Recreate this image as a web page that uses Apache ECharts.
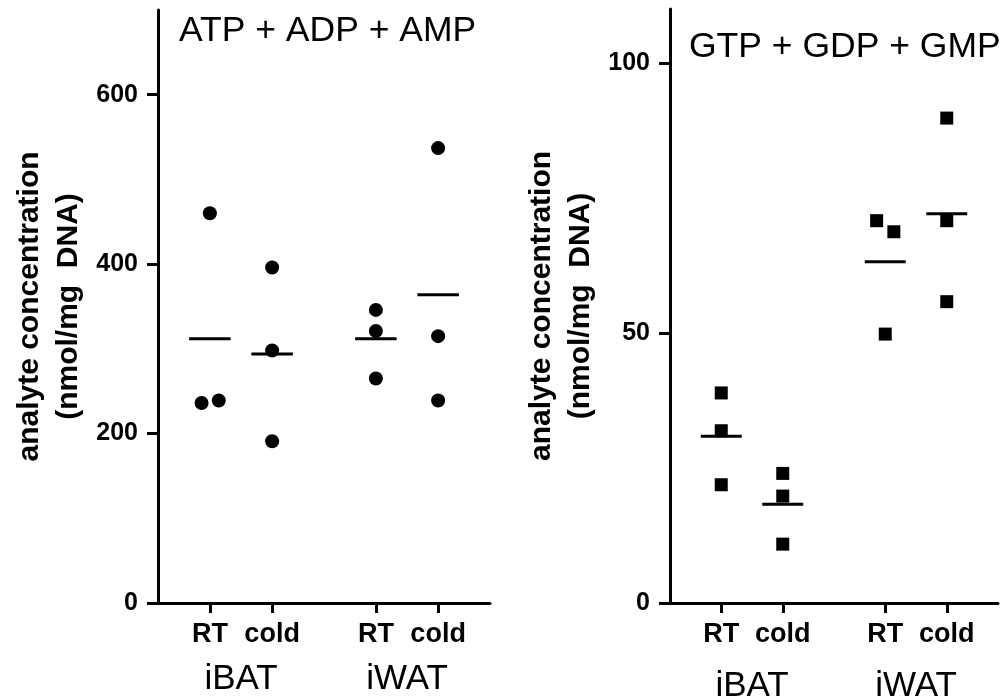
<!DOCTYPE html>
<html>
<head>
<meta charset="utf-8">
<script src="https://cdn.jsdelivr.net/npm/echarts@6/dist/echarts.min.js"></script>
<style>html,body{margin:0;padding:0;background:#fff}#c{width:1003px;height:700px}</style>
</head>
<body>
<div id="c"></div>
<script>
// ---- data ----
const tissues = ['iBAT', 'iWAT'];
const conditions = ['RT', 'cold', 'RT', 'cold'];
const panelTitles = ['ATP + ADP + AMP', 'GTP + GDP + GMP'];
const yAxisTitle = 'analyte concentration\n(nmol/mg  DNA)';

// per category: iBAT RT, iBAT cold, iWAT RT, iWAT cold
const adenylateValues = [[460, 236, 239], [396, 298, 191], [346, 321, 265], [537, 315, 239]];
const adenylateJitter = [[0, -0.4, 0.43], [0, 0, 0], [0, 0, 0], [0, 0, 0]];
const adenylateMeans = [312, 294, 312, 364];
const adenylateTicks = [0, 200, 400, 600];

const guanylateValues = [[38.9, 31.9, 21.9], [24.0, 19.8, 10.9], [70.8, 68.75, 49.8], [89.8, 70.8, 55.8]];
const guanylateJitter = [[0, 0, 0], [0, 0, 0], [-0.42, 0.42, 0], [0, 0, 0]];
const guanylateMeans = [30.9, 18.3, 63.2, 72.1];
const guanylateTicks = [0, 50, 100];

// ---- layout helpers ----
const slots = [2.5, 5.5, 10.5, 13.5];   // category centres on a 0..16 axis
const groupCentres = [4, 12];
const FONT = '"Liberation Sans", Arial, sans-serif';

function points(values, jitter) {
  const out = [];
  values.forEach((vals, i) => vals.forEach((v, j) => out.push([slots[i] + jitter[i][j], v])));
  return out;
}
function meanData(means) { return means.map((m, i) => [slots[i], m]); }

const chart = echarts.init(document.getElementById('c'));

const grids = [
  { left: 158, top: 10, width: 332, height: 593, containLabel: false, outerBoundsMode: 'none' },
  { left: 670, top: 9, width: 328, height: 594, containLabel: false, outerBoundsMode: 'none' }
];

function xAxes(g, groupMargin) {
  return [
    {
      type: 'value', gridIndex: g, min: 0, max: 16,
      axisLine: { show: true, onZero: false, lineStyle: { color: '#000', width: 3 } },
      splitLine: { show: false },
      axisTick: { show: true, customValues: slots, length: 10, lineStyle: { color: '#000', width: 3 } },
      axisLabel: {
        customValues: slots, margin: 18, color: '#000', fontFamily: FONT, fontWeight: 'bold', fontSize: 27,
        formatter: v => conditions[slots.indexOf(v)] || ''
      }
    },
    {
      type: 'value', gridIndex: g, min: 0, max: 16, position: 'bottom',
      axisLine: { show: false }, splitLine: { show: false }, axisTick: { show: false },
      axisLabel: {
        customValues: groupCentres, margin: groupMargin, color: '#000', fontFamily: FONT, fontSize: 35,
        formatter: v => tissues[groupCentres.indexOf(v)] || ''
      }
    }
  ];
}

function yAxis(g, max, ticks) {
  return {
    type: 'value', gridIndex: g, min: 0, max: max,
    name: yAxisTitle, nameLocation: 'middle', nameRotate: 90, nameGap: 70,
    nameTextStyle: { color: '#000', fontFamily: FONT, fontWeight: 'bold', fontSize: 30, lineHeight: 39 },
    axisLine: { show: true, lineStyle: { color: '#000', width: 3 } },
    splitLine: { show: false },
    axisTick: { show: true, customValues: ticks, length: 11, lineStyle: { color: '#000', width: 3 } },
    axisLabel: { customValues: ticks, margin: 20, color: '#000', fontFamily: FONT, fontWeight: 'bold', fontSize: 25 }
  };
}

function meanSeries(xi, yi, means) {
  return {
    type: 'custom', xAxisIndex: xi, yAxisIndex: yi, data: meanData(means), z: 3,
    renderItem(params, api) {
      const x = api.value(0), y = api.value(1);
      const p1 = api.coord([x - 1, y]), p2 = api.coord([x + 1, y]);
      return { type: 'line', shape: { x1: p1[0], y1: p1[1], x2: p2[0], y2: p2[1] }, style: { stroke: '#000', lineWidth: 3 } };
    }
  };
}

chart.setOption({
  backgroundColor: '#fff',
  animation: false,
  title: [
    { text: panelTitles[0], left: 174, top: 8, textStyle: { color: '#000', fontFamily: FONT, fontWeight: 'normal', fontSize: 35.5 } },
    { text: panelTitles[1], left: 684, top: 24, textStyle: { color: '#000', fontFamily: FONT, fontWeight: 'normal', fontSize: 35.5 } }
  ],
  grid: grids,
  xAxis: [...xAxes(0, 59), ...xAxes(1, 66)],
  yAxis: [yAxis(0, 700, adenylateTicks), yAxis(1, 110, guanylateTicks)],
  series: [
    { type: 'scatter', xAxisIndex: 0, yAxisIndex: 0, symbol: 'circle', symbolSize: 14, itemStyle: { color: '#000', opacity: 1 }, data: points(adenylateValues, adenylateJitter) },
    meanSeries(0, 0, adenylateMeans),
    { type: 'scatter', xAxisIndex: 2, yAxisIndex: 1, symbol: 'rect', symbolSize: 13, itemStyle: { color: '#000', opacity: 1 }, data: points(guanylateValues, guanylateJitter) },
    meanSeries(2, 1, guanylateMeans)
  ]
});
</script>
</body>
</html>
